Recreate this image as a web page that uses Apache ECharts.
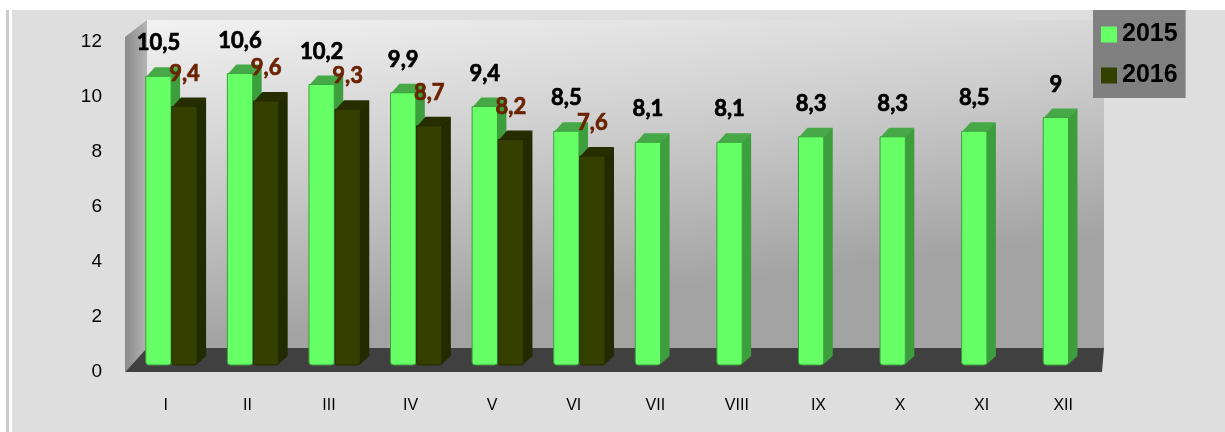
<!DOCTYPE html>
<html>
<head>
<meta charset="utf-8">
<script src="https://cdn.jsdelivr.net/npm/echarts@6/dist/echarts.min.js"></script>
<style>
  html, body { margin: 0; padding: 0; background: #fff; }
  #main { width: 1225px; height: 432px; }
</style>
</head>
<body>
<div id="main"></div>
<script>
// dane wykresu
var months = ['I', 'II', 'III', 'IV', 'V', 'VI', 'VII', 'VIII', 'IX', 'X', 'XI', 'XII'];
var values2015 = [10.5, 10.6, 10.2, 9.9, 9.4, 8.5, 8.1, 8.1, 8.3, 8.3, 8.5, 9];
var values2016 = [9.4, 9.6, 9.3, 8.7, 8.2, 7.6, null, null, null, null, null, null];
var yMin = 0, yMax = 12, yStep = 2;

var chart = echarts.init(document.getElementById('main'));

// sciany i podloga "3D" rysowane wzgledem siatki
function renderWalls(params, api) {
    var cs = params.coordSys;
    var d = 22;
    var left = cs.x, right = cs.x + cs.width, top = cs.y, bottom = cs.y + cs.height;
    var wallGrad = new echarts.graphic.LinearGradient(left + d, top - d, left + d + 40, bottom - 24, [
        { offset: 0, color: '#f2f2f2' }, { offset: 0.5, color: '#cdcdcd' }, { offset: 1, color: '#a3a3a3' }], true);
    return {
        type: 'group',
        children: [
            { type: 'rect', shape: { x: left + d, y: top - d, width: right - left - d, height: cs.height - 2 },
              style: { fill: wallGrad } },
            { type: 'polygon', shape: { points: [[left, top - 5], [left + d, top - d], [left + d, bottom - 24], [left, bottom]] },
              style: { fill: new echarts.graphic.LinearGradient(0, 0, 1, 0, [
                  { offset: 0, color: '#8a8a8a' }, { offset: 1, color: '#b4b4b4' }]) } },
            { type: 'polygon', shape: { points: [[left, bottom], [left + d, bottom - 24], [right, bottom - 24], [right - 2, bottom]] },
              style: { fill: '#404040' } }
        ]
    };
}

function makeBar(offset, front, side, topColor, labelColor) {
    return function (params, api) {
        var v = api.value(1);
        if (v == null || isNaN(v)) return;
        var base = api.coord([api.value(0), 0]);
        var tip = api.coord([api.value(0), v]);
        var band = api.size([1, 0])[0];
        var w = band * 0.31;
        var d = band * 0.11;
        var lift = 7;
        var x0 = base[0] + band * offset;
        var x1 = x0 + w;
        var yb = base[1] - lift;
        var yt = tip[1] - lift;
        return {
            type: 'group',
            children: [
                { type: 'polygon', shape: { points: [[x1 - 1, yb], [x1 - 1, yt], [x1 + d, yt - d], [x1 + d, yb - d]] },
                  style: { fill: side } },
                { type: 'polygon', shape: { points: [[x0, yt + 1], [x0 + d, yt - d], [x1 + d, yt - d], [x1, yt + 1]] },
                  style: { fill: topColor } },
                { type: 'rect', shape: { x: x0, y: yt, width: w, height: yb - yt, r: [0, 0, 3, 3] },
                  style: { fill: front, stroke: side, lineWidth: 1 } },
                { type: 'text', style: {
                    text: String(v).replace('.', ','), x: (x0 + x1) / 2, y: yt - 33,
                    align: 'center', verticalAlign: 'middle',
                    font: 'bold 22px Lato', fill: labelColor,
                    stroke: labelColor, lineWidth: 0.7 } }
            ]
        };
    };
}

var option = {
    animation: false,
    backgroundColor: '#fff',
    graphic: [
        { type: 'rect', z: -10, shape: { x: 12, y: 10, width: 1213, height: 422 }, style: { fill: '#dedede' } },
        { type: 'rect', z: -10, shape: { x: 6, y: 10, width: 3, height: 422 }, style: { fill: '#cbcbcb' } }
    ],
    grid: { left: 125, right: 121, top: 42, bottom: 60 },
    legend: {
        orient: 'vertical',
        left: 1093, top: 10,
        padding: [12, 8, 10, 8],
        backgroundColor: '#808080',
        itemWidth: 16, itemHeight: 16, itemGap: 16,
        icon: 'rect',
        textStyle: { fontFamily: 'Liberation Sans', fontWeight: 'bold', fontSize: 25, color: '#000' },
        data: [
            { name: '2015', itemStyle: { color: '#66ff66' } },
            { name: '2016', itemStyle: { color: '#334000' } }
        ]
    },
    xAxis: {
        type: 'category',
        data: months,
        axisLine: { show: false },
        axisTick: { show: false },
        axisLabel: { margin: 26, fontFamily: 'Liberation Sans', fontSize: 16, color: '#000' }
    },
    yAxis: {
        type: 'value',
        min: yMin, max: yMax, interval: yStep,
        splitLine: { show: false },
        axisLine: { show: false },
        axisTick: { show: false },
        axisLabel: { margin: 23, fontFamily: 'Liberation Sans', fontSize: 19, color: '#000' }
    },
    series: [
        { type: 'custom', name: 'walls', silent: true, z: 1, data: [[0, 0]], renderItem: renderWalls },
        { type: 'custom', name: '2015', z: 2, itemStyle: { color: '#66ff66' },
          data: values2015.map(function (v, i) { return [i, v]; }),
          renderItem: makeBar(-0.245, '#66ff66', '#3d9e3d', '#46a846', '#000') },
        { type: 'custom', name: '2016', z: 3, itemStyle: { color: '#334000' },
          data: values2016.map(function (v, i) { return [i, v]; }),
          renderItem: makeBar(0.074, '#343f00', '#222a00', '#262e00', '#6a2200') }
    ]
};

chart.setOption(option);
</script>
</body>
</html>
